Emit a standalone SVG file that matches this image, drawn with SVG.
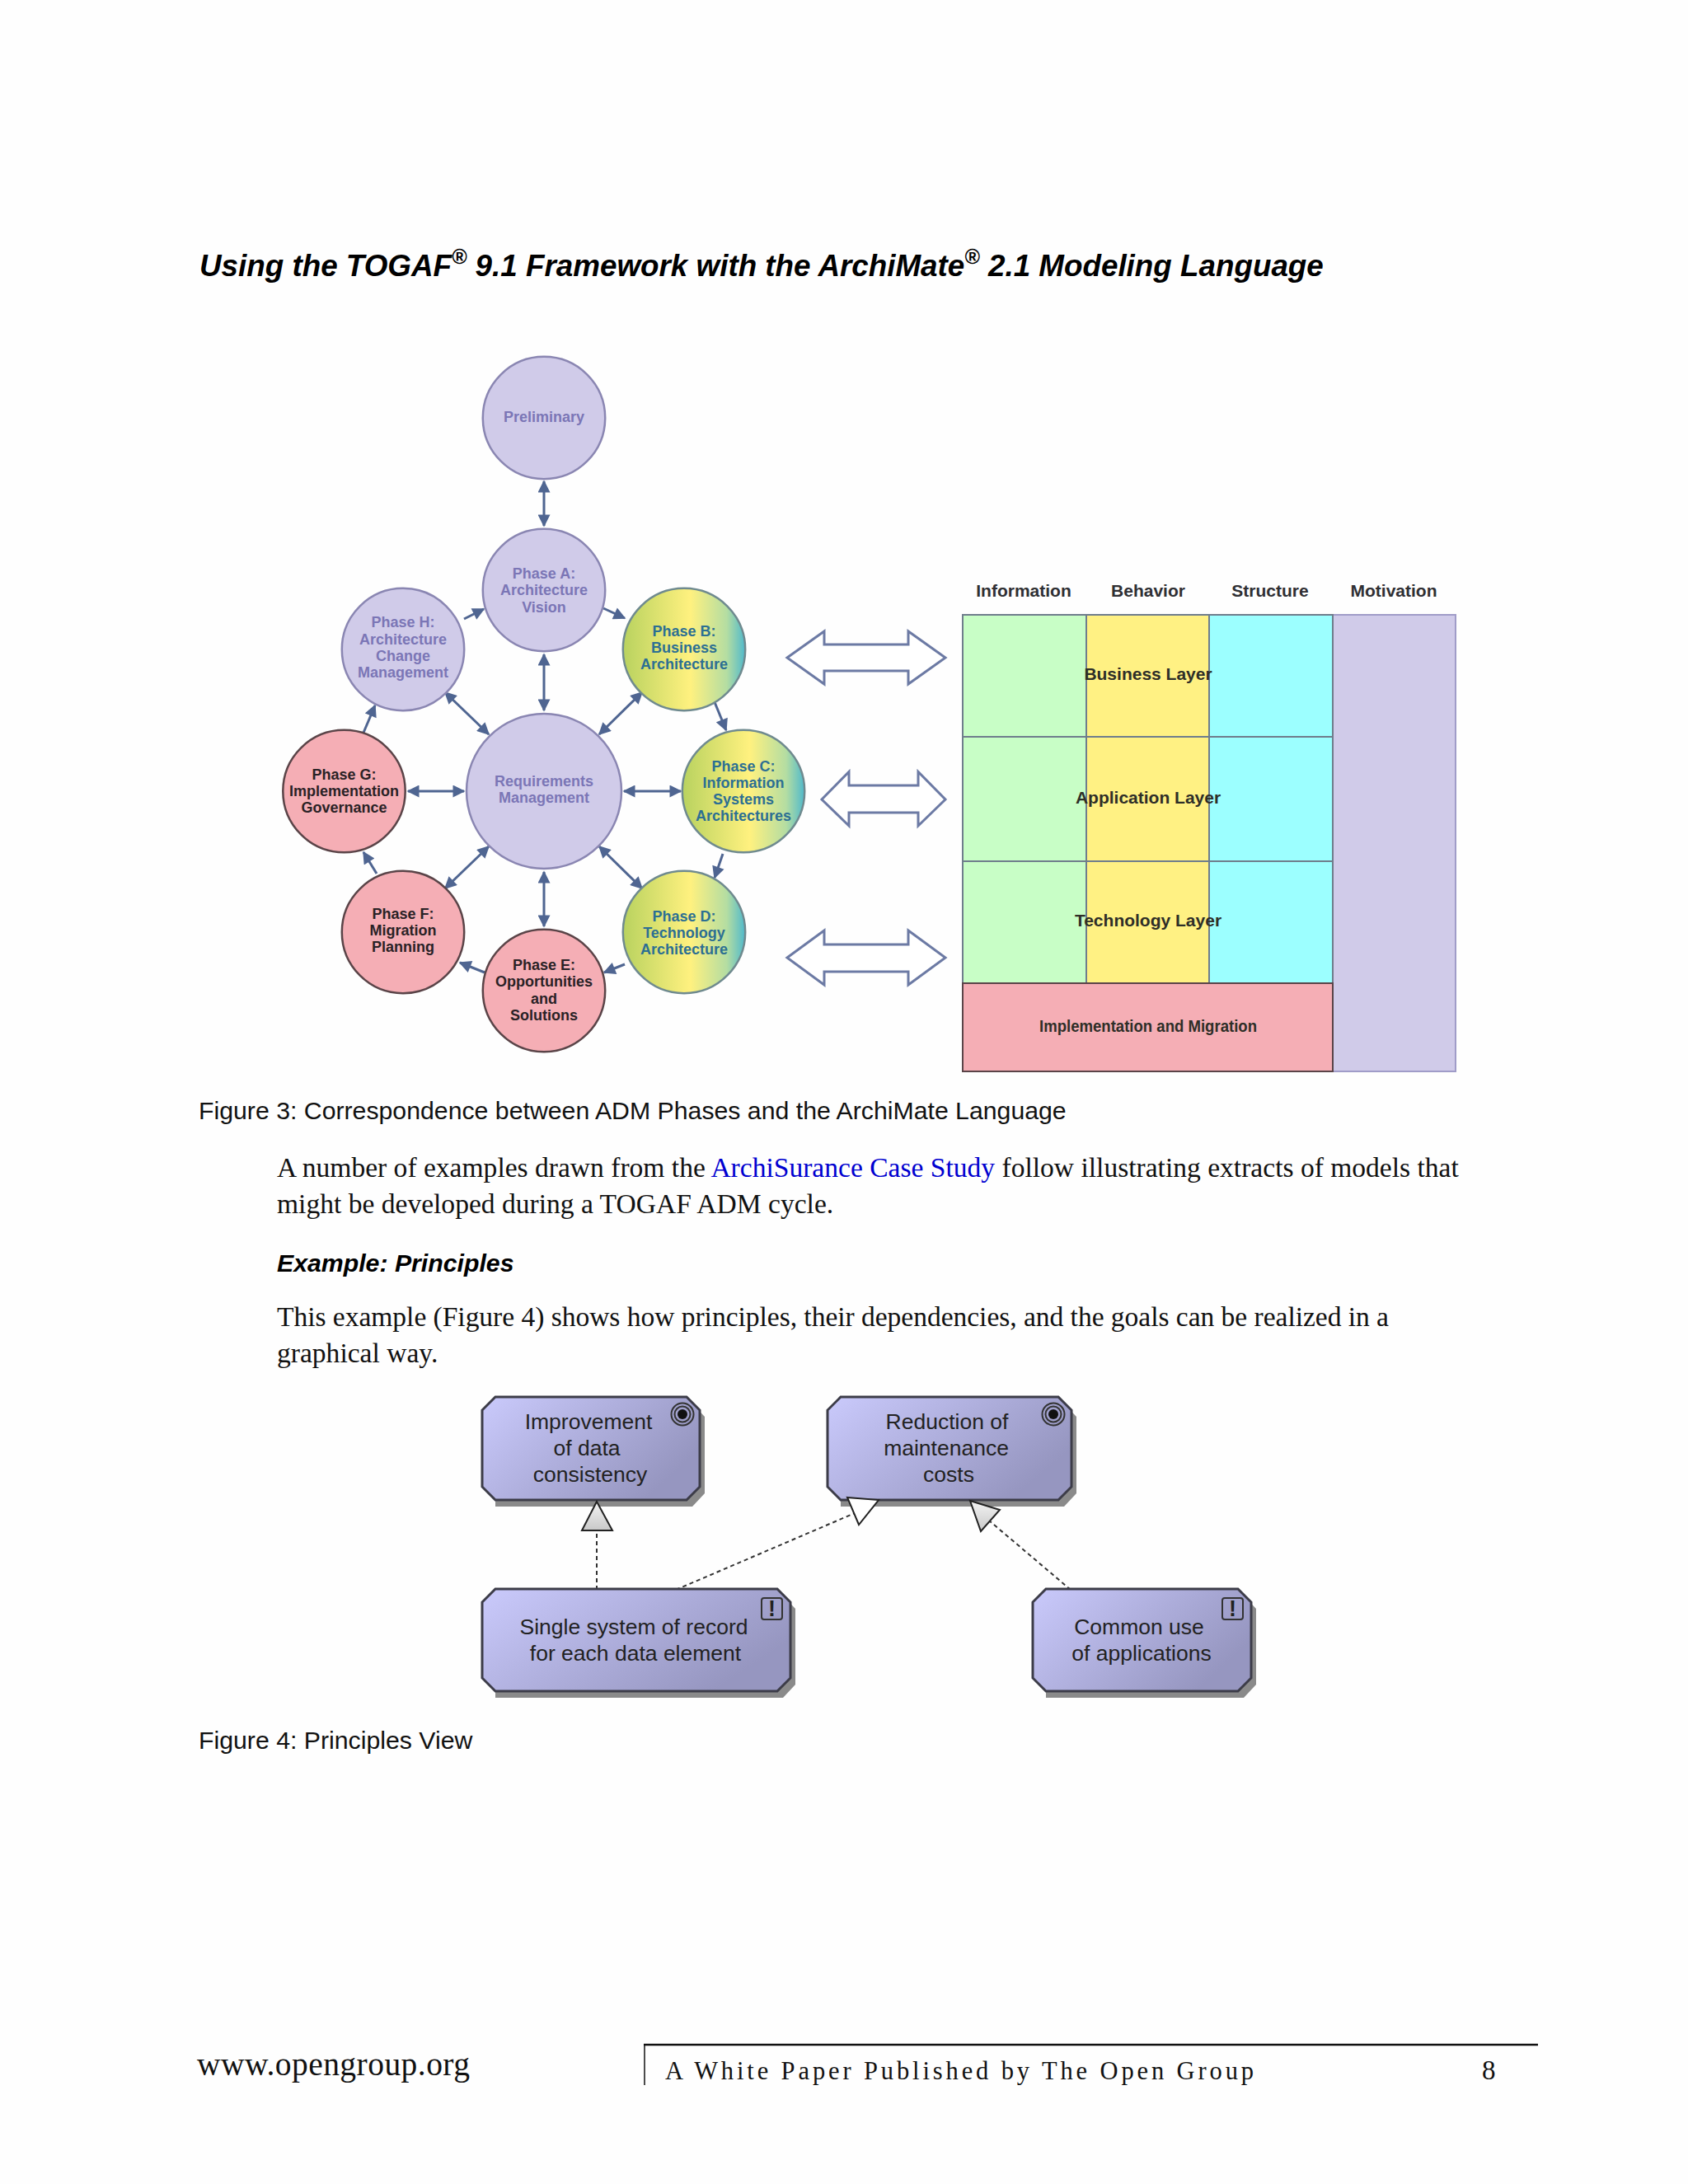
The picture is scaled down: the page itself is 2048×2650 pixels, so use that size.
<svg xmlns="http://www.w3.org/2000/svg" width="2048" height="2650" viewBox="0 0 2048 2650">
<style>
text{font-family:"Liberation Sans",Arial,sans-serif}
.c{text-anchor:middle}
.lab{font-size:18px;font-weight:700;text-anchor:middle}
.lv{fill:#7b76b6}.pk{fill:#2a2226}.gr{fill:#2c6f93}
.lavc{fill:#d0cbe9;stroke:#8a86b2;stroke-width:2.5}
.pkc{fill:#f5aeb5;stroke:#5a4448;stroke-width:2.5}
.grc{fill:url(#gc);stroke:#6f8a8f;stroke-width:2.5}
.cn{fill:none;stroke:#4f6591;stroke-width:3}
.bi{fill:#fff;stroke:#6c7aa4;stroke-width:3}
.hd{font-size:21px;font-weight:700;fill:#2f2f33;text-anchor:middle}
.ly{font-size:21px;font-weight:700;fill:#2e2e28;text-anchor:middle}
.cell{stroke:#6f7d8c;stroke-width:2}
.ser{font-family:"Liberation Serif",serif;fill:#111}
.body{font-family:"Liberation Serif",serif;font-size:33.55px;fill:#111}
.cap{font-size:30.25px;fill:#111}
.box{fill:url(#bx);stroke:#3c3c48;stroke-width:3}
.shd{fill:#8a8a8a}
.bt{font-size:26.5px;fill:#222;text-anchor:middle}
.icon{fill:none;stroke:#333;stroke-width:2}
.d{fill:none;stroke:#333;stroke-width:2;stroke-dasharray:5 4}
</style>
<defs>
<linearGradient id="gc" x1="0" x2="1" y1="0" y2="0"><stop offset="0" stop-color="#b8d25f"/><stop offset=".55" stop-color="#fff17f"/><stop offset=".85" stop-color="#b4dda2"/><stop offset="1" stop-color="#4fb9cc"/></linearGradient>
<linearGradient id="bx" x1="0" x2="1" y1="0" y2=".5"><stop offset="0" stop-color="#cacafc"/><stop offset="1" stop-color="#9696c0"/></linearGradient>
<linearGradient id="tg" x1="0" x2="0" y1="0" y2="1"><stop offset="0" stop-color="#f4f4f4"/><stop offset="1" stop-color="#c8c8c8"/></linearGradient>
<marker id="a" viewBox="0 0 10 10" refX="9" refY="5" markerWidth="5.5" markerHeight="5" orient="auto-start-reverse"><path d="M0 0L10 5L0 10z" fill="#4f6591"/></marker>
</defs>
<rect width="2048" height="2650" fill="#fefefe"/>
<text id="title" x="242" y="335" font-size="36.8" font-weight="700" font-style="italic" fill="#000">Using the TOGAF<tspan font-size="25" dy="-15">®</tspan><tspan dy="15"> 9.1 Framework with the ArchiMate</tspan><tspan font-size="25" dy="-15">®</tspan><tspan dy="15"> 2.1 Modeling Language</tspan></text>
<g id="connectors">
<path class="cn" marker-start="url(#a)" marker-end="url(#a)" d="M660 584V638"/>
<path class="cn" marker-start="url(#a)" marker-end="url(#a)" d="M660 794V862"/>
<path class="cn" marker-start="url(#a)" marker-end="url(#a)" d="M660 1058V1124"/>
<path class="cn" marker-start="url(#a)" marker-end="url(#a)" d="M495 960H563"/>
<path class="cn" marker-start="url(#a)" marker-end="url(#a)" d="M757 960H826"/>
<path class="cn" marker-start="url(#a)" marker-end="url(#a)" d="M727 891L779 840"/>
<path class="cn" marker-start="url(#a)" marker-end="url(#a)" d="M593 891L540 840"/>
<path class="cn" marker-start="url(#a)" marker-end="url(#a)" d="M593 1027L540 1078"/>
<path class="cn" marker-start="url(#a)" marker-end="url(#a)" d="M727 1027L779 1078"/>
<path class="cn" marker-end="url(#a)" d="M732 738L758 750"/>
<path class="cn" marker-end="url(#a)" d="M563 751L587 739"/>
<path class="cn" marker-end="url(#a)" d="M867 852L881 886"/>
<path class="cn" marker-end="url(#a)" d="M877 1036L867 1065"/>
<path class="cn" marker-end="url(#a)" d="M758 1170L733 1180"/>
<path class="cn" marker-end="url(#a)" d="M588 1180L558 1168"/>
<path class="cn" marker-end="url(#a)" d="M457 1060L441 1034"/>
<path class="cn" marker-end="url(#a)" d="M441 889L455 856"/>
<path class="d" d="M724 1929V1857"/>
<path class="d" stroke-dasharray="3 2" d="M820 1929L1037 1836"/>
<path class="d" stroke-dasharray="3 2" d="M1299 1929L1200 1845"/>
</g>
<g id="preliminary"><circle class="lavc" cx="660" cy="507" r="74.2"/><text class="lab lv" x="660" y="512">Preliminary</text></g>
<g id="phaseA"><circle class="lavc" cx="660" cy="716" r="74.2"/><text class="lab lv"><tspan x="660" y="702">Phase A:</tspan><tspan x="660" y="722">Architecture</tspan><tspan x="660" y="743">Vision</tspan></text></g>
<g id="phaseH"><circle class="lavc" cx="489" cy="788" r="74.2"/><text class="lab lv"><tspan x="489" y="761">Phase H:</tspan><tspan x="489" y="782">Architecture</tspan><tspan x="489" y="802">Change</tspan><tspan x="489" y="822">Management</tspan></text></g>
<g id="phaseB"><circle class="grc" cx="830" cy="788" r="74.2"/><text class="lab gr"><tspan x="830" y="772">Phase B:</tspan><tspan x="830" y="792">Business</tspan><tspan x="830" y="812">Architecture</tspan></text></g>
<g id="requirements"><circle class="lavc" cx="660" cy="960" r="94"/><text class="lab lv"><tspan x="660" y="954">Requirements</tspan><tspan x="660" y="974">Management</tspan></text></g>
<g id="phaseG"><circle class="pkc" cx="417.5" cy="960" r="74.2"/><text class="lab pk"><tspan x="417.5" y="946">Phase G:</tspan><tspan x="417.5" y="966">Implementation</tspan><tspan x="417.5" y="986">Governance</tspan></text></g>
<g id="phaseC"><circle class="grc" cx="902" cy="960" r="74.2"/><text class="lab gr"><tspan x="902" y="936">Phase C:</tspan><tspan x="902" y="956">Information</tspan><tspan x="902" y="976">Systems</tspan><tspan x="902" y="996">Architectures</tspan></text></g>
<g id="phaseF"><circle class="pkc" cx="489" cy="1131" r="74.2"/><text class="lab pk"><tspan x="489" y="1115">Phase F:</tspan><tspan x="489" y="1135">Migration</tspan><tspan x="489" y="1155">Planning</tspan></text></g>
<g id="phaseD"><circle class="grc" cx="830" cy="1131" r="74.2"/><text class="lab gr"><tspan x="830" y="1118">Phase D:</tspan><tspan x="830" y="1138">Technology</tspan><tspan x="830" y="1158">Architecture</tspan></text></g>
<g id="phaseE"><circle class="pkc" cx="660" cy="1202" r="74.2"/><text class="lab pk"><tspan x="660" y="1177">Phase E:</tspan><tspan x="660" y="1197">Opportunities</tspan><tspan x="660" y="1218">and</tspan><tspan x="660" y="1238">Solutions</tspan></text></g>
<g id="bigArrows">
<path class="bi" d="M955 798L1000 766V782H1102V766L1147 798L1102 830V814H1000V830z"/>
<path class="bi" d="M997 970L1030 936.5V953H1114V936.5L1147 970L1114 1002V986H1030V1002z"/>
<path class="bi" d="M955 1162L1000 1129V1146H1102V1129L1147 1162L1102 1195V1179H1000V1195z"/>
</g>
<g id="layers">
<text class="hd" x="1242" y="723.500">Information</text><text class="hd" x="1393" y="723.500">Behavior</text><text class="hd" x="1541" y="723.500">Structure</text><text class="hd" x="1691" y="723.500">Motivation</text>
<rect x="1617" y="746" width="149" height="554" fill="#d0cbe9" stroke="#a09cc8" stroke-width="2"/>
<rect class="cell" x="1168" y="746" width="150" height="447" fill="#c8fec6"/>
<rect class="cell" x="1318" y="746" width="149" height="447" fill="#fff183"/>
<rect class="cell" x="1467" y="746" width="150" height="447" fill="#9cffff"/>
<path class="cell" fill="none" d="M1168 894H1617M1168 1045H1617"/>
<rect x="1168" y="1193" width="449" height="107" fill="#f5aeb5" stroke="#5a4448" stroke-width="2"/>
<text class="ly" x="1393" y="825">Business Layer</text><text class="ly" x="1393" y="975">Application Layer</text><text class="ly" x="1393" y="1124">Technology Layer</text><text class="ly" x="1393" y="1252" textLength="264" lengthAdjust="spacingAndGlyphs">Implementation and Migration</text>
</g>
<text id="cap3" class="cap" x="241" y="1358">Figure 3: Correspondence between ADM Phases and the ArchiMate Language</text>
<text class="body" x="336" y="1428">A number of examples drawn from the <tspan fill="#0000d0">ArchiSurance Case Study</tspan> follow illustrating extracts of models that</text>
<text class="body" x="336" y="1472">might be developed during a TOGAF ADM cycle.</text>
<text x="336" y="1543" font-size="30.25" font-weight="700" font-style="italic" fill="#000">Example: Principles</text>
<text class="body" x="336" y="1609" textLength="1349">This example (Figure 4) shows how principles, their dependencies, and the goals can be realized in a</text>
<text class="body" x="336" y="1653">graphical way.</text>
<g id="goal1"><path class="shd" d="M601 1703H840L855 1719V1812L840 1828H601z"/><path class="box" d="M601 1695H833L849 1711V1804L833 1820H601L585 1804V1711z"/><circle class="icon" cx="828" cy="1716" r="13.500"/><circle class="icon" cx="828" cy="1716" r="9.5"/><circle cx="828" cy="1716" r="6" fill="#111"/><text class="bt"><tspan x="714" y="1734">Improvement</tspan><tspan x="712" y="1766">of data</tspan><tspan x="716" y="1798">consistency</tspan></text></g>
<g id="goal2"><path class="shd" d="M1020 1703H1291L1306 1719V1812L1291 1828H1020z"/><path class="box" d="M1020 1695H1284L1300 1711V1804L1284 1820H1020L1004 1804V1711z"/><circle class="icon" cx="1278" cy="1716" r="13.500"/><circle class="icon" cx="1278" cy="1716" r="9.5"/><circle cx="1278" cy="1716" r="6" fill="#111"/><text class="bt"><tspan x="1149" y="1734">Reduction of</tspan><tspan x="1148" y="1766">maintenance</tspan><tspan x="1151" y="1798">costs</tspan></text></g>
<g id="principle1"><path class="shd" d="M601 1936H950L965 1952V2044L950 2060H601z"/><path class="box" d="M601 1928H943L959 1944V2036L943 2052H601L585 2036V1944z"/><rect class="icon" x="924" y="1939" width="25" height="26" rx="3"/><text x="936.5" y="1961" font-size="27" font-weight="700" fill="#222" class="c">!</text><text class="bt"><tspan x="769" y="1983">Single system of record</tspan><tspan x="771" y="2015">for each data element</tspan></text></g>
<g id="principle2"><path class="shd" d="M1269 1936H1509L1524 1952V2044L1509 2060H1269z"/><path class="box" d="M1269 1928H1502L1518 1944V2036L1502 2052H1269L1253 2036V1944z"/><rect class="icon" x="1483" y="1939" width="25" height="26" rx="3"/><text x="1495.5" y="1961" font-size="27" font-weight="700" fill="#222" class="c">!</text><text class="bt"><tspan x="1382" y="1983">Common use</tspan><tspan x="1385" y="2015">of applications</tspan></text></g>
<g id="triangles">
<path d="M724 1822L743 1857H706z" fill="url(#tg)" stroke="#222" stroke-width="2"/>
<path d="M1028 1817L1066 1820L1042 1850z" fill="#fff" stroke="#222" stroke-width="2"/>
<path d="M1177 1821L1213 1832L1190 1858z" fill="url(#tg)" stroke="#222" stroke-width="2"/>
</g>
<text id="cap4" class="cap" x="241" y="2122">Figure 4: Principles View</text>
<g id="footer">
<path d="M781 2481H1866" stroke="#111" stroke-width="2.500" fill="none"/><path d="M782 2480V2530" stroke="#111" stroke-width="1.500" fill="none"/>
<text class="ser" x="239" y="2518" font-size="39.500" textLength="331">www.opengroup.org</text>
<text class="ser" x="807" y="2523" font-size="30.5" textLength="714">A White Paper Published by The Open Group</text>
<text class="ser" x="1798" y="2523" font-size="33">8</text>
</g>
</svg>
